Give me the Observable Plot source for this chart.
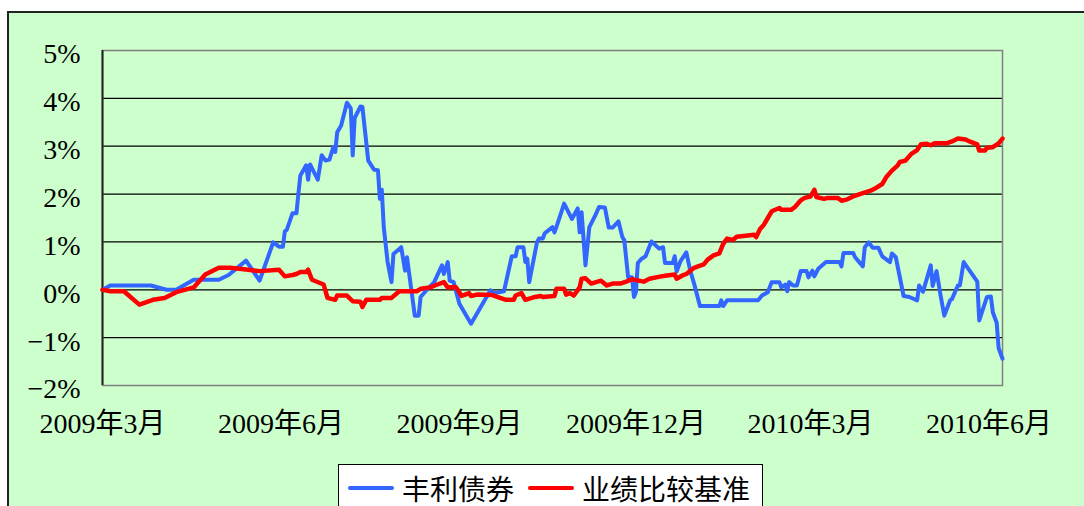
<!DOCTYPE html>
<html>
<head>
<meta charset="utf-8">
<script src="https://cdn.jsdelivr.net/npm/d3@7"></script>
<script src="https://cdn.jsdelivr.net/npm/@observablehq/plot@0.6"></script>
<style>
  html, body { margin: 0; padding: 0; background: #fff; }
  body { width: 1084px; height: 506px; overflow: hidden; position: relative; }
  #bg { position: absolute; left: 7px; top: 11px; width: 1100px; height: 520px;
        background: #ccffcc; border: 2px solid #222; box-sizing: border-box; }
  #chart { position: absolute; left: 0; top: 0; }
  #chart svg text { font-family: "Liberation Serif", "Noto Sans CJK SC", serif !important; }
  #legend { position: absolute; left: 338px; top: 464px; width: 425px; height: 60px;
            background: #fff; border: 1px solid #000; box-sizing: border-box;
            display: flex; flex-wrap: nowrap; white-space: nowrap;
            padding: 5px 0 0 9px; align-items: flex-start; }
  .item { display: flex; flex-shrink: 0; flex-wrap: nowrap; white-space: nowrap;
          align-items: center; height: 36px; margin-right: 14px; }
  .sw { display: inline-block; flex-shrink: 0; width: 46px; height: 4px; border-radius: 2px; margin-right: 8px; }
  .lab { font-family: "Noto Sans CJK SC", sans-serif; font-size: 28px; line-height: 36px;
         color: #000; white-space: nowrap; }
</style>
</head>
<body>
<div id="bg"></div>
<div id="chart"></div>
<div id="legend"></div>
<script>
// ---- data ----
const seriesNames = ["丰利债券", "业绩比较基准"];
const seriesColors = ["#3366ff", "#ff0000"];
const startDate = "2009-03-24";
const endDate = "2010-07-01";
const xTickDates = ["2009-03-24", "2009-06-24", "2009-09-24", "2009-12-24", "2010-03-24", "2010-06-24"];
const xTickLabels = ["2009年3月", "2009年6月", "2009年9月", "2009年12月", "2010年3月", "2010年6月"];
const yTicks = [-2, -1, 0, 1, 2, 3, 4, 5];

// days since start, cumulative return in %
const fundDays = [0,4,25,33,38,47,60,65,74,81,88,91,93,94,95,98,100,101,102,105,106,107,111,113,115,117,119,120,121,123,126,128,129,130,133,134,137,140,142,143,144,145,147,149,150,154,156,157,158,161,163,164,167,171,175,176,178,179,181,184,190,200,202,207,211,213,214,217,218,219,220,224,225,227,228,232,233,234,238,242,245,246,247,249,251,254,256,259,261,263,266,268,269,271,273,274,275,276,278,280,283,287,289,290,294,295,296,298,301,303,305,308,318,319,320,322,338,340,343,345,349,350,352,353,354,356,358,360,363,364,366,367,369,373,380,381,382,387,388,392,393,395,397,400,402,406,407,409,413,416,420,421,423,427,428,430,432,434,437,438,441,442,444,451,452,456,458,459,461,462,464];
const fundValues = [0.00,0.09,0.09,0.00,0.00,0.21,0.21,0.31,0.61,0.19,0.99,0.90,0.90,1.22,1.25,1.60,1.60,2.01,2.39,2.60,2.30,2.62,2.30,2.81,2.70,2.72,2.98,2.88,3.29,3.43,3.91,3.79,2.81,3.59,3.83,3.82,2.70,2.51,2.50,1.90,2.09,1.31,0.58,0.16,0.75,0.89,0.40,0.68,0.37,-0.54,-0.54,-0.15,-0.01,0.16,0.51,0.33,0.58,0.19,0.16,-0.29,-0.71,-0.01,-0.07,-0.03,0.70,0.70,0.89,0.89,0.58,0.65,0.16,0.99,1.07,1.07,1.18,1.31,1.20,1.31,1.80,1.48,1.70,1.20,1.62,0.51,1.31,1.55,1.73,1.72,1.30,1.30,1.43,1.10,1.04,0.26,0.26,-0.15,-0.05,0.56,0.65,0.70,1.01,0.86,0.89,0.56,0.56,0.70,0.38,0.60,0.78,0.40,0.13,-0.34,-0.34,-0.22,-0.34,-0.22,-0.22,-0.12,-0.05,0.16,0.16,0.05,0.11,-0.03,0.16,0.09,0.09,0.39,0.39,0.26,0.40,0.28,0.44,0.58,0.58,0.49,0.77,0.77,0.68,0.49,0.89,0.99,0.88,0.88,0.70,0.58,0.76,0.68,-0.13,-0.15,-0.22,0.09,-0.04,0.51,0.08,0.39,-0.10,-0.54,-0.22,-0.19,0.09,0.09,0.58,0.17,-0.64,-0.15,-0.14,-0.47,-0.69,-1.22,-1.44];

const benchDays = [0,4,11,19,26,32,38,47,53,60,66,75,81,91,94,98,100,102,105,106,108,114,116,120,121,126,129,133,134,136,143,144,149,153,162,164,169,172,176,178,182,184,185,187,189,190,193,201,205,208,212,213,216,218,223,226,227,233,234,238,239,241,243,246,247,249,252,257,260,263,267,270,273,279,282,288,291,295,296,299,301,305,307,310,312,315,318,320,322,325,327,336,337,339,341,343,345,349,350,355,357,360,362,365,367,368,372,374,379,381,384,387,392,396,398,402,404,407,410,411,414,417,420,422,425,427,429,435,438,441,445,447,451,452,455,456,459,462,464];
const benchValues = [0.00,-0.03,-0.03,-0.31,-0.21,-0.17,-0.05,0.05,0.32,0.46,0.46,0.42,0.39,0.42,0.28,0.31,0.33,0.37,0.37,0.42,0.21,0.11,-0.17,-0.21,-0.12,-0.12,-0.24,-0.25,-0.36,-0.21,-0.21,-0.17,-0.17,-0.03,-0.03,0.02,0.05,0.10,0.16,0.05,0.06,-0.05,-0.13,-0.10,-0.07,-0.13,-0.10,-0.11,-0.17,-0.21,-0.21,-0.12,-0.07,-0.21,-0.15,-0.13,-0.15,-0.13,0.02,0.02,-0.10,-0.07,-0.12,0.05,0.23,0.24,0.13,0.19,0.09,0.13,0.13,0.17,0.22,0.17,0.23,0.28,0.30,0.32,0.23,0.30,0.33,0.46,0.49,0.53,0.63,0.72,0.76,0.96,1.07,1.04,1.11,1.15,1.10,1.27,1.36,1.50,1.64,1.71,1.67,1.67,1.73,1.87,1.92,1.95,2.09,1.94,1.90,1.92,1.92,1.86,1.89,1.95,2.02,2.07,2.11,2.21,2.35,2.49,2.60,2.67,2.70,2.84,2.92,3.04,3.05,3.02,3.06,3.06,3.10,3.16,3.14,3.10,3.04,2.91,2.91,2.97,2.98,3.06,3.16];

// ---- build ----
const parse = d3.utcParse("%Y-%m-%d");
const start = parse(startDate);
const end = parse(endDate);
const tickDates = xTickDates.map(parse);
const toRows = (days, vals) => days.map((d, i) => ({date: d3.utcDay.offset(start, d), value: vals[i]}));
const fund = toRows(fundDays, fundValues);
const bench = toRows(benchDays, benchValues);

const fmtY = v => (v < 0 ? "\u2212" : "") + Math.abs(v) + "%";
const fmtX = d => xTickLabels[tickDates.findIndex(t => +t === +d)];

const chart = Plot.plot({
  width: 1084,
  height: 440,
  marginLeft: 102,
  marginRight: 82,
  marginTop: 50,
  marginBottom: 55,
  style: {
    background: "transparent",
    fontFamily: '"Liberation Serif", "Noto Sans CJK SC", serif',
    fontSize: "28px",
    color: "#000",
    overflow: "visible"
  },
  x: {type: "utc", domain: [start, end]},
  y: {domain: [yTicks[0], yTicks[yTicks.length - 1]]},
  marks: [
    Plot.ruleY(yTicks.slice(1, -1), {stroke: "#000", strokeWidth: 1.2}),
    Plot.frame({stroke: "#808080", strokeWidth: 1.5}),
    Plot.ruleX([start], {stroke: "#222", strokeWidth: 2}),
    Plot.axisX({ticks: tickDates, tickFormat: fmtX, tickSize: 0, tickPadding: 28, label: null}),
    Plot.axisY({ticks: yTicks, tickFormat: fmtY, tickSize: 0, tickPadding: 22, dy: 4, label: null}),
    Plot.line(fund, {x: "date", y: "value", stroke: seriesColors[0], strokeWidth: 4, strokeLinejoin: "round"}),
    Plot.line(bench, {x: "date", y: "value", stroke: seriesColors[1], strokeWidth: 4.5, strokeLinejoin: "round"})
  ]
});
document.getElementById("chart").appendChild(chart);

const legend = document.getElementById("legend");
seriesNames.forEach((name, i) => {
  const item = document.createElement("div");
  item.className = "item";
  const sw = document.createElement("span");
  sw.className = "sw";
  sw.style.background = seriesColors[i];
  const lab = document.createElement("span");
  lab.className = "lab";
  lab.textContent = name;
  item.appendChild(sw);
  item.appendChild(lab);
  legend.appendChild(item);
});
</script>
</body>
</html>
